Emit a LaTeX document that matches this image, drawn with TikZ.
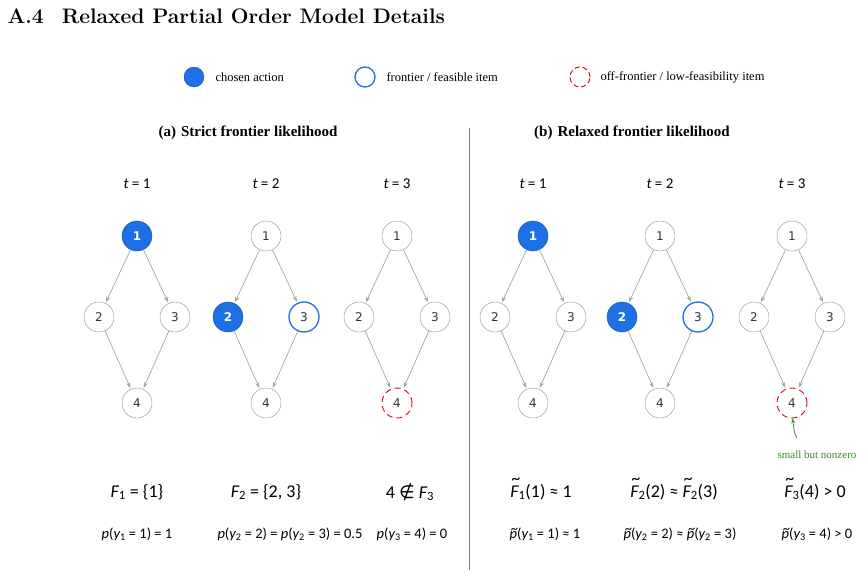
\documentclass[tikz,border=0pt]{standalone}
\usepackage{fontspec}
\setmainfont{Liberation Serif}
\newfontfamily\nodefont{DejaVu Sans}
\newfontfamily\mathf{Carlito}
\newfontfamily\lmr{Latin Modern Roman}
\usetikzlibrary{arrows.meta}
\definecolor{cblue}{HTML}{1F6FE5}
\definecolor{cdark}{HTML}{1450B0}
\definecolor{cgreen}{HTML}{3A8A2A}
\newcommand{\tld}[2][0.62ex]{{\ooalign{#2\cr\hidewidth\kern0.15em\raisebox{#1}{\~{}}\hidewidth\cr}}}
\begin{document}
\begin{tikzpicture}[x=1pt,y=-1pt,
  nd/.style={circle,draw=black!45,fill=white,minimum size=30pt,inner sep=0pt,font=\nodefont\fontsize{12}{14}\selectfont,text=black!80},
  chosen/.style={nd,draw=cdark,fill=cblue,text=white,font=\nodefont\bfseries\fontsize{12}{14}\selectfont},
  front/.style={nd,draw=cblue,line width=1.3pt},
  off/.style={nd,draw=red!85!black,dashed,dash pattern=on 6pt off 4pt,line width=0.9pt},
  ed/.style={draw=black!35,-{Stealth[length=6pt,width=4pt]},line width=0.7pt,shorten >=1pt},
  lab/.style={font=\mathf\fontsize{15}{17}\selectfont},
  fm/.style={font=\mathf\fontsize{18}{20}\selectfont},
  pm/.style={font=\mathf\fontsize{14.5}{16}\selectfont},
  lg/.style={anchor=west,font=\fontsize{12.5}{14}\selectfont}]
\useasboundingbox (0,0) rectangle (868,578);
\node[anchor=west,font=\lmr\bfseries\fontsize{21}{24}\selectfont] (hd) at (4,16) {A.4\hspace{18pt}Relaxed Partial Order Model Details};
% legend
\node[chosen,minimum size=20pt] (l1) at (194,77) {};
\node[lg] (l1t) at (212,77) {chosen action};
\node[front,minimum size=20pt] (l2) at (365,77) {};
\node[lg] (l2t) at (383,77) {frontier / feasible item};
\node[off,minimum size=20pt,dash pattern=on 5pt off 3pt] (l3) at (580,77) {};
\node[lg] (l3t) at (597,77) {off-frontier / low-feasibility item};
% titles
\node[font=\bfseries\fontsize{15}{17}\selectfont] (ta) at (248,133) {(a)\hspace{5pt}Strict frontier likelihood};
\node[font=\bfseries\fontsize{15}{17}\selectfont] (tb) at (632,133) {(b)\hspace{5pt}Relaxed frontier likelihood};
\coordinate (d1) at (469,128); \coordinate (d2) at (469,570);
\draw[black!50,line width=0.8pt] (d1) -- (d2);
% graphs
\foreach \cx/\s/\tt/\id in {137/1/1/a,266/2/2/b,397/3/3/c,533/1/1/d,660/2/2/e,792/3/3/f}{
  \node[lab] (t\id) at (\cx,184) {\itshape t\upshape\ =\ \tt};
  \ifnum\s=1 \node[chosen] (n1\id) at (\cx,236) {1}; \else \node[nd] (n1\id) at (\cx,236) {1}; \fi
  \ifnum\s=2 \node[chosen] (n2\id) at (\cx-38,317) {2}; \node[front] (n3\id) at (\cx+38,317) {3};
  \else \node[nd] (n2\id) at (\cx-38,317) {2}; \node[nd] (n3\id) at (\cx+38,317) {3}; \fi
  \ifnum\s=3 \node[off] (n4\id) at (\cx,403) {4}; \else \node[nd] (n4\id) at (\cx,403) {4}; \fi
  \draw[ed] (n1\id) -- (n2\id);
  \draw[ed] (n1\id) -- (n3\id);
  \draw[ed] (n2\id) -- (n4\id);
  \draw[ed] (n3\id) -- (n4\id);
}
% annotation
\node[text=cgreen,font=\fontsize{11}{13}\selectfont] (ann) at (817,455) {small but nonzero};
\coordinate (as) at (797,438);
\draw[cgreen,line width=0.8pt,-{Stealth[length=5pt,width=4pt]}] (as) .. controls (793,432) and (794,425) .. (n4f.south);
% formulas
\node[fm] (fa) at (137,492) {\itshape F\upshape\textsubscript{1} = \{1\}};
\node[fm] (fb) at (266,492) {\itshape F\upshape\textsubscript{2} = \{2, 3\}};
\node[fm] (fc) at (410,492) {4 {\nodefont∉} \itshape F\upshape\textsubscript{3}};
\node[fm] (fd) at (541,492) {\tld[1.45ex]{\itshape F}\upshape\textsubscript{1}(1) ≈ 1};
\node[fm] (fe) at (674,492) {\tld[1.45ex]{\itshape F}\upshape\textsubscript{2}(2) ≈ \tld[1.45ex]{\itshape F}\upshape\textsubscript{2}(3)};
\node[fm] (ff) at (815,492) {\tld[1.45ex]{\itshape F}\upshape\textsubscript{3}(4) > 0};
\node[pm] (pa) at (137,534) {\itshape p\upshape(\itshape y\upshape\textsubscript{1} = 1) = 1};
\node[pm] (pb) at (290,534) {\itshape p\upshape(\itshape y\upshape\textsubscript{2} = 2) = \itshape p\upshape(\itshape y\upshape\textsubscript{2} = 3) = 0.5};
\node[pm] (pc) at (412,534) {\itshape p\upshape(\itshape y\upshape\textsubscript{3} = 4) = 0};
\node[pm] (pd) at (545,534) {\tld{\itshape p}\upshape(\itshape y\upshape\textsubscript{1} = 1) ≈ 1};
\node[pm] (pe) at (680,534) {\tld{\itshape p}\upshape(\itshape y\upshape\textsubscript{2} = 2) ≈ \tld{\itshape p}\upshape(\itshape y\upshape\textsubscript{2} = 3)};
\node[pm] (pf) at (817,534) {\tld{\itshape p}\upshape(\itshape y\upshape\textsubscript{3} = 4) > 0};
\end{tikzpicture}
\end{document}
